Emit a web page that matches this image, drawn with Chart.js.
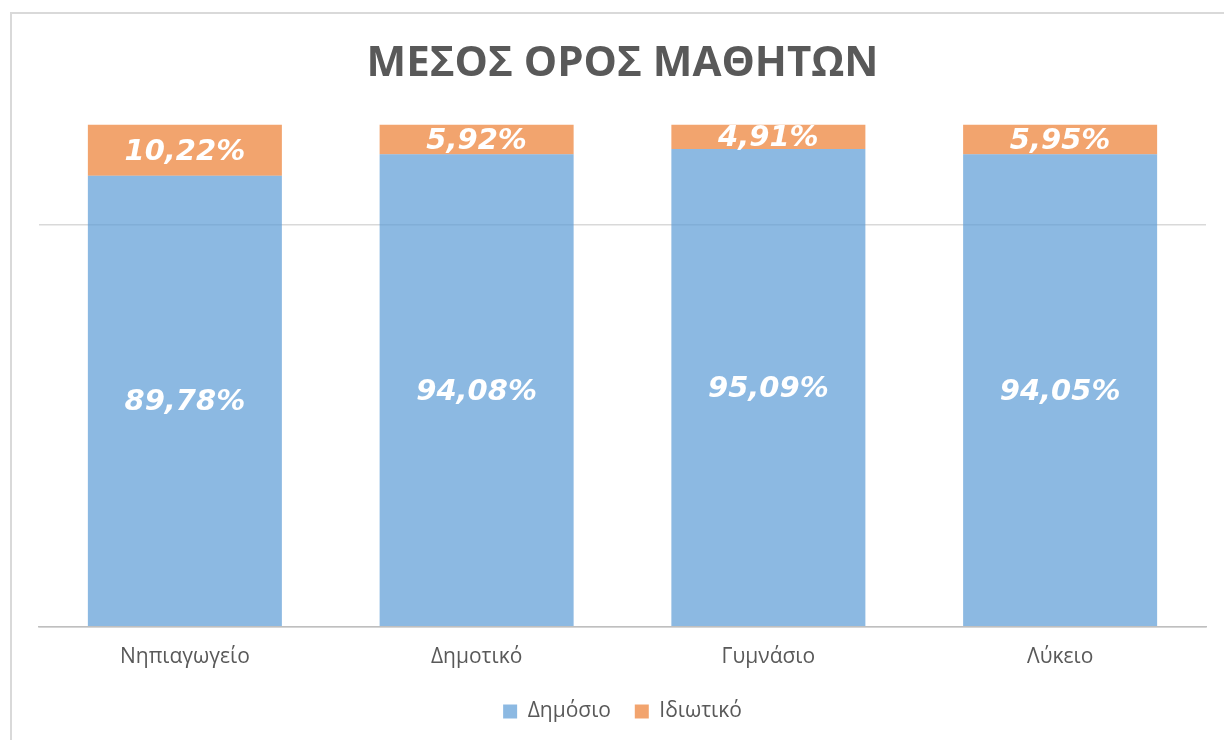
<!DOCTYPE html>
<html>
<head>
<meta charset="utf-8">
<script src="https://cdn.jsdelivr.net/npm/chart.js@4"></script>
<style>
  html, body { margin: 0; padding: 0; background: #fff; }
  #wrap { position: relative; width: 1224px; height: 740px; overflow: hidden; }
  #frame { position: absolute; left: 10px; top: 12px; width: 1240px; height: 760px; border: 2px solid #d9d9d9; box-sizing: border-box; }
  canvas { position: absolute; left: 0; top: 0; }
</style>
</head>
<body>
<div id="wrap">
  <div id="frame"></div>
  <canvas id="chart" width="1224" height="740"></canvas>
</div>
<script>
// Average of pupils, public vs private, per school level
var categories = ['Νηπιαγωγείο', 'Δημοτικό', 'Γυμνάσιο', 'Λύκειο'];
var publicShare = [89.78, 94.08, 95.09, 94.05];
var privateShare = [10.22, 5.92, 4.91, 5.95];
var gridTicks = [0, 80];

// Write the percentage in the middle of every segment
var segmentLabels = {
  id: 'segmentLabels',
  afterDatasetsDraw: function(chart) {
    var ctx = chart.ctx;
    ctx.save();
    ctx.fillStyle = '#ffffff';
    ctx.font = 'italic bold 29px "DejaVu Sans"';
    ctx.textAlign = 'center';
    ctx.textBaseline = 'middle';
    chart.data.datasets.forEach(function(ds, i) {
      chart.getDatasetMeta(i).data.forEach(function(bar, j) {
        var midY = (bar.y + bar.base) / 2;
        ctx.fillText(ds.data[j].toFixed(2).replace('.', ',') + '%', bar.x, midY + 2);
      });
    });
    ctx.restore();
  }
};

new Chart(document.getElementById('chart').getContext('2d'), {
  type: 'bar',
  data: {
    labels: categories,
    datasets: [
      { label: 'Δημόσιο', data: publicShare, backgroundColor: 'rgba(91,155,213,0.7)', borderWidth: 0 },
      { label: 'Ιδιωτικό', data: privateShare, backgroundColor: 'rgba(237,125,49,0.7)', borderWidth: 0 }
    ]
  },
  options: {
    responsive: false,
    animation: false,
    categoryPercentage: 1,
    barPercentage: 0.665,
    layout: { padding: { left: 39, right: 18, top: 0, bottom: 8 } },
    plugins: {
      title: {
        display: true,
        text: 'ΜΕΣΟΣ ΟΡΟΣ ΜΑΘΗΤΩΝ',
        color: '#595959',
        font: { family: 'Open Sans', size: 42, weight: 'bold' },
        padding: { top: 39, bottom: 35 }
      },
      legend: {
        position: 'bottom',
        labels: {
          color: '#595959',
          font: { family: 'Open Sans', size: 21 },
          boxWidth: 14, boxHeight: 14,
          padding: 13,
          generateLabels: function(chart) {
            var items = Chart.defaults.plugins.legend.labels.generateLabels(chart);
            // a little extra room between the two entries
            items[0].text = items[0].text + '  ';
            return items;
          }
        }
      },
      tooltip: { enabled: false }
    },
    scales: {
      x: {
        stacked: true,
        grid: { display: false, drawTicks: false },
        border: { display: true, color: '#bfbfbf', width: 1.5 },
        ticks: { color: '#595959', font: { family: 'Open Sans', size: 21 }, padding: 18 }
      },
      y: {
        stacked: true,
        min: 0, max: 100,
        afterBuildTicks: function(axis) {
          axis.ticks = gridTicks.map(function(v) { return { value: v }; });
        },
        afterFit: function(axis) { axis.width = 0; },
        ticks: { display: false },
        border: { display: false },
        grid: { color: '#d9d9d9', lineWidth: 1.5, drawTicks: false }
      }
    }
  },
  plugins: [segmentLabels]
});
</script>
</body>
</html>
